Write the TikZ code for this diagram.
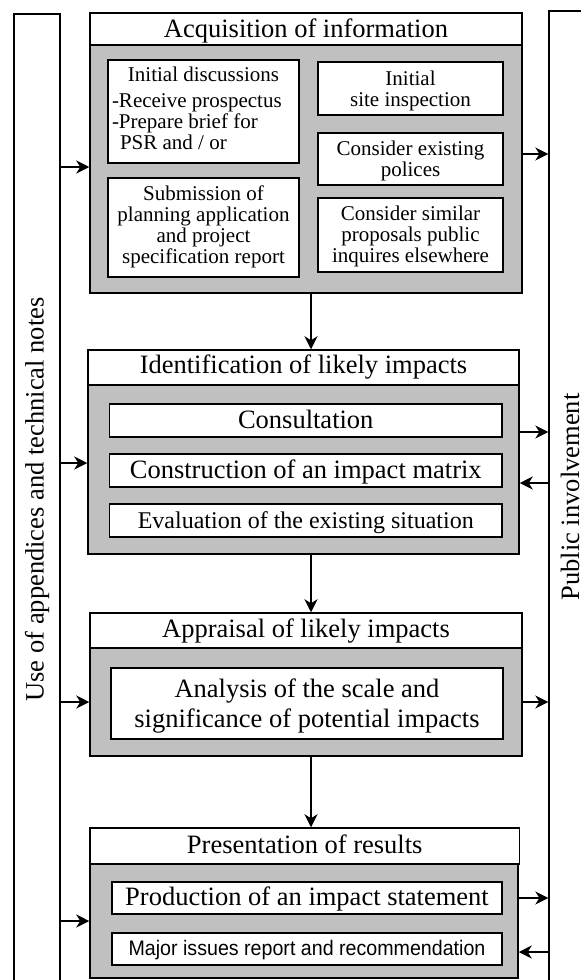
\documentclass[tikz,border=0pt]{standalone}
\usepackage{fontspec}
\setmainfont{Liberation Serif}
\newfontfamily\narrowsans[FakeStretch=0.935]{Liberation Sans}
\usetikzlibrary{arrows.meta}
\definecolor{boxgray}{RGB}{192,192,192}
% stacked lines hung from the baseline of the first line
\newcommand{\lines}[2][c]{\begin{tabular}[t]{@{}#1@{}}#2\end{tabular}}

\begin{document}
\begin{tikzpicture}[x=1pt,y=-1pt,
  bigfont/.style={font=\fontsize{26.5}{30}\selectfont},
  smallfont/.style={font=\fontsize{21}{21}\selectfont},
  frame/.style={draw, line width=1.5pt, inner sep=0pt, anchor=center},
  headbox/.style={frame, fill=white, bigfont},
  graybox/.style={frame, fill=boxgray},
  itembox/.style={frame, fill=white},
  panel/.style={draw, line width=1.3pt, inner sep=0pt, bigfont, rotate=90},
  arr/.style={line width=1.8pt, -{Stealth[length=13pt,width=13pt,inset=4pt]}}
]
\useasboundingbox (0,0) rectangle (581,980);
\clip (0,0) rectangle (581,980);

% side panels
\node[panel, minimum width=971pt, minimum height=46pt] (lp) at (37,499.5) {Use of appendices and technical notes};
\node[panel, minimum width=972pt, minimum height=42pt] (rp) at (570,497) {Public involvement};

% stage 1: acquisition of information
\node[graybox, minimum width=432pt, minimum height=248pt] (acqg) at (306,169) {};
\node[headbox, minimum width=432pt, text height=24.3pt, text depth=7.7pt] (acqh) at (306,29) {Acquisition of information};
\node[itembox, smallfont, minimum width=191pt, text height=21.7pt, text depth=81.3pt] (a1) at (203.5,111.5)
  {\lines[l]{\makebox[183pt]{Initial discussions}\\[5pt]-Receive prospectus\\-Prepare brief for\\\hspace*{8pt}PSR and / or}};
\node[itembox, smallfont, minimum width=191pt, text height=22pt, text depth=77pt] (a2) at (203.5,227.5)
  {\lines{Submission of\\planning application\\and project\\specification report}};
\node[itembox, smallfont, minimum width=185pt, text height=23.3pt, text depth=29.7pt] (a3) at (410.5,88.5)
  {\lines{Initial\\site inspection}};
\node[itembox, smallfont, minimum width=185pt, text height=22pt, text depth=30pt] (a4) at (410.5,159)
  {\lines{Consider existing\\polices}};
\node[itembox, smallfont, minimum width=185pt, text height=22.7pt, text depth=51.3pt] (a5) at (410.5,235)
  {\lines{Consider similar\\proposals public\\inquires elsewhere}};

% stage 2: identification of likely impacts
\node[graybox, minimum width=431pt, minimum height=169pt] (idg) at (303.5,469.5) {};
\node[headbox, minimum width=431pt, text height=23pt, text depth=12pt] (idh) at (303.5,367.5) {Identification of likely impacts};
\node[itembox, bigfont, minimum width=392.5pt, text height=24pt, text depth=9pt] (b1) at (305.75,420.5) {Consultation};
\node[itembox, bigfont, minimum width=392.5pt, text height=24pt, text depth=9pt] (b2) at (305.75,470.5) {Construction of an impact matrix};
\node[itembox, font=\fontsize{24}{26}\selectfont, minimum width=392.5pt, text height=24pt, text depth=9pt] (b3) at (305.75,520.5) {Evaluation of the existing situation};

% stage 3: appraisal of likely impacts
\node[graybox, minimum width=432pt, minimum height=108pt] (apg) at (306,702) {};
\node[headbox, minimum width=432pt, text height=24pt, text depth=11pt] (aph) at (306,630.5) {Appraisal of likely impacts};
\node[itembox, bigfont, minimum width=392pt, text height=29pt, text depth=42pt] (c1) at (307,703.5)
  {\lines{Analysis of the scale and\\significance of potential impacts}};

% stage 4: presentation of results
\node[graybox, minimum width=428pt, minimum height=114pt] (prg) at (304,921) {};
\node[headbox, minimum width=429.5pt, text height=25pt, text depth=11pt] (prh) at (304.75,846) {Presentation of results};
\node[itembox, bigfont, minimum width=390pt, text height=23pt, text depth=9pt] (d1) at (307,898) {Production of an impact statement};
\node[itembox, font=\narrowsans\fontsize{21}{21}\selectfont, minimum width=390pt, text height=22pt, text depth=10pt] (d2) at (307,949) {Major issues report and recommendation};

% main flow
\coordinate (dx) at (311,0);
\draw[arr] (acqg.south -| dx) -- (idh.north -| dx);
\draw[arr] (idg.south -| dx) -- (aph.north -| dx);
\draw[arr] (apg.south -| dx) -- (prh.north -| dx);

% technical notes feeding each stage
\coordinate (l1) at ([yshift=2pt]acqg.west);
\coordinate (l2) at ([yshift=6.5pt]idg.west);
\draw[arr] (lp.south |- l1) -- (l1);
\draw[arr] (lp.south |- l2) -- (l2);
\draw[arr] (lp.south |- apg.west) -- (apg.west);
\draw[arr] (lp.south |- prg.west) -- (prg.west);

% exchanges with public involvement
\coordinate (r1) at ([yshift=15pt]acqg.east);
\coordinate (r2) at ([yshift=37.5pt]idg.east);
\coordinate (r3) at ([yshift=-13.5pt]idg.east);
\coordinate (r4) at ([yshift=-3pt]prg.east |- d2);
\draw[arr] (r1) -- (r1 -| rp.north);
\draw[arr] (r2) -- (r2 -| rp.north);
\draw[arr] (r3 -| rp.north) -- (r3);
\draw[arr] (apg.east) -- (apg.east -| rp.north);
\draw[arr] (prg.east |- d1) -- (d1 -| rp.north);
\draw[arr] (r4 -| rp.north) -- (r4);
\end{tikzpicture}
\end{document}
